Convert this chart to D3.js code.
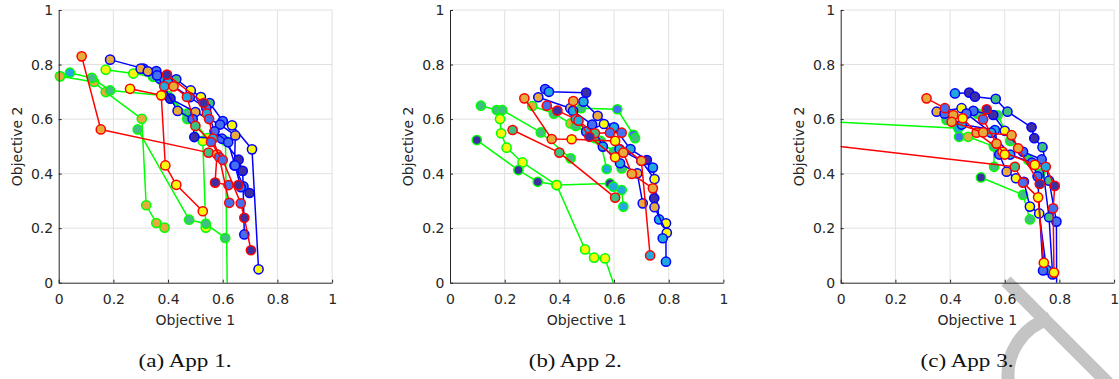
<!DOCTYPE html>
<html><head><meta charset="utf-8">
<script src="https://cdn.jsdelivr.net/npm/d3@7"></script>
<style>body{margin:0;background:#fff}svg{display:block}</style>
</head><body>
<svg id="c" width="1119" height="379"></svg>
<script>
const xTicks=[0,0.2,0.4,0.6,0.8,1];
const yTicks=[0,0.2,0.4,0.6,0.8,1];
const captions=["(a) App 1.","(b) App 2.","(c) App 3."];
const xLabel="Objective 1", yLabel="Objective 2";
// marker fill codes: Y yellow, O orange, T teal, C cyan, B blue, D dark blue
// ---- App 1 ----
const app1Green1=[[0.005,0.757,"O"],[0.129,0.736,"O"],[0.172,0.699,"O"],[0.304,0.601,"O"],[0.320,0.284,"O"],[0.357,0.219,"O"],[0.387,0.202,"O"]];
const app1Green2=[[0.005,0.757,"O"],[0.041,0.770,"C"],[0.121,0.751,"T"],[0.188,0.705,"T"],[0.40,0.685,"T"],[0.47,0.62,"T"],[0.545,0.53,"Y"],[0.61,0.52,"T"],[0.617,-0.06,"T"]];
const app1Green3=[[0.172,0.781,"Y"],[0.273,0.767,"Y"],[0.345,0.755,"T"],[0.41,0.675,"T"],[0.47,0.60,"T"],[0.527,0.52,"Y"],[0.538,0.202,"Y"]];
const app1Green4=[[0.289,0.562,"T"],[0.477,0.231,"T"],[0.538,0.216,"T"],[0.609,0.164,"T"]];
const app1Blue1=[[0.188,0.818,"O"],[0.31,0.785,"B"],[0.357,0.776,"B"],[0.43,0.746,"T"],[0.483,0.705,"Y"],[0.52,0.681,"Y"],[0.552,0.659,"T"],[0.60,0.593,"B"],[0.634,0.577,"Y"],[0.707,0.489,"Y"],[0.731,0.049,"Y"]];
const app1Blue2=[[0.30,0.785,"O"],[0.326,0.775,"O"],[0.37,0.748,"C"],[0.408,0.675,"D"],[0.50,0.626,"O"],[0.59,0.58,"B"],[0.646,0.54,"O"],[0.643,0.43,"C"],[0.676,0.353,"B"],[0.698,0.329,"D"]];
const app1Blue3=[[0.36,0.76,"B"],[0.435,0.63,"O"],[0.49,0.60,"B"],[0.496,0.534,"D"],[0.597,0.528,"B"],[0.658,0.451,"D"],[0.673,0.41,"D"],[0.679,0.177,"B"]];
const app1Blue4=[[0.40,0.735,"C"],[0.48,0.68,"B"],[0.54,0.64,"B"],[0.57,0.555,"B"],[0.62,0.515,"B"],[0.645,0.43,"B"],[0.666,0.35,"B"]];
const app1Red1=[[0.084,0.830,"O"],[0.154,0.562,"O"],[0.548,0.477,"T"],[0.579,0.471,"O"],[0.572,0.367,"D"],[0.621,0.358,"B"],[0.657,0.358,"D"]];
const app1Red2=[[0.261,0.711,"Y"],[0.375,0.687,"Y"],[0.390,0.430,"Y"],[0.430,0.359,"Y"],[0.527,0.262,"Y"]];
const app1Red3=[[0.396,0.763,"D"],[0.53,0.659,"D"],[0.542,0.62,"C"],[0.55,0.60,"B"],[0.564,0.528,"C"],[0.587,0.461,"B"],[0.624,0.293,"B"]];
const app1Red4=[[0.386,0.72,"C"],[0.42,0.72,"O"],[0.469,0.681,"C"],[0.50,0.575,"T"],[0.557,0.516,"B"],[0.60,0.45,"B"],[0.666,0.291,"B"],[0.679,0.238,"D"],[0.703,0.119,"D"]];
// ---- App 2 ----
const app2Green1=[[0.113,0.649,"T"],[0.171,0.633,"T"],[0.191,0.633,"T"],[0.332,0.551,"T"],[0.441,0.456,"T"]];
const app2Green2=[[0.183,0.600,"Y"],[0.187,0.548,"Y"],[0.207,0.495,"Y"],[0.265,0.441,"Y"],[0.390,0.358,"Y"],[0.494,0.122,"Y"],[0.527,0.092,"Y"],[0.567,0.089,"Y"],[0.614,-0.05,"Y"]];
const app2Green3=[[0.098,0.523,"D"],[0.25,0.413,"D"],[0.321,0.370,"D"],[0.39,0.358,"Y"],[0.585,0.364,"D"],[0.598,0.352,"C"],[0.628,0.34,"C"],[0.634,0.279,"C"]];
const app2Green4=[[0.301,0.648,"O"],[0.38,0.62,"T"],[0.441,0.584,"O"],[0.50,0.555,"T"],[0.55,0.52,"T"],[0.573,0.417,"C"]];
const app2Green5=[[0.48,0.64,"T"],[0.612,0.636,"B"],[0.671,0.542,"B"],[0.677,0.53,"T"]];
const app2Green6=[[0.46,0.575,"T"],[0.53,0.53,"T"],[0.60,0.48,"T"],[0.628,0.419,"T"]];
const app2Blue1=[[0.348,0.71,"B"],[0.362,0.70,"C"],[0.498,0.697,"D"],[0.488,0.664,"C"],[0.54,0.612,"O"],[0.60,0.57,"C"],[0.66,0.49,"C"],[0.72,0.45,"D"],[0.742,0.422,"C"],[0.765,0.232,"C"],[0.79,0.218,"Y"],[0.79,0.077,"C"]];
const app2Blue2=[[0.323,0.68,"O"],[0.44,0.64,"O"],[0.498,0.554,"C"],[0.563,0.582,"Y"],[0.62,0.49,"C"],[0.70,0.447,"C"],[0.748,0.38,"Y"],[0.747,0.31,"D"],[0.748,0.277,"O"],[0.793,0.183,"Y"],[0.778,0.163,"C"]];
const app2Blue3=[[0.45,0.63,"C"],[0.52,0.58,"B"],[0.559,0.499,"C"],[0.622,0.438,"C"],[0.685,0.401,"O"],[0.705,0.291,"O"]];
const app2Red1=[[0.272,0.676,"O"],[0.372,0.527,"O"],[0.445,0.526,"Y"],[0.604,0.52,"Y"],[0.70,0.447,"O"],[0.732,0.10,"C"]];
const app2Red2=[[0.229,0.56,"T"],[0.40,0.477,"T"],[0.604,0.312,"T"]];
const app2Red3=[[0.354,0.649,"B"],[0.393,0.631,"D"],[0.46,0.60,"C"],[0.53,0.548,"T"],[0.585,0.55,"B"],[0.628,0.55,"B"]];
const app2Red4=[[0.451,0.666,"O"],[0.47,0.594,"C"],[0.51,0.535,"D"],[0.604,0.46,"Y"],[0.634,0.477,"O"],[0.665,0.399,"O"],[0.742,0.346,"O"]];
// ---- App 3 ----
const app3Green1=[[-0.2,0.598,"T"],[0.43,0.566,"C"],[0.433,0.535,"B"],[0.466,0.535,"O"],[0.56,0.50,"T"],[0.561,0.425,"T"]];
const app3Green2=[[0.387,0.597,"T"],[0.50,0.62,"T"],[0.574,0.614,"T"],[0.62,0.52,"T"],[0.686,0.45,"T"],[0.73,0.40,"T"]];
const app3Green3=[[0.513,0.386,"D"],[0.667,0.322,"T"],[0.692,0.232,"T"]];
const app3Blue1=[[0.418,0.694,"C"],[0.47,0.697,"D"],[0.491,0.682,"D"],[0.567,0.674,"T"],[0.61,0.627,"T"],[0.698,0.57,"D"],[0.708,0.53,"D"],[0.738,0.497,"T"],[0.762,0.374,"T"],[0.789,0.224,"B"],[0.79,-0.05,"B"]];
const app3Blue2=[[0.351,0.627,"O"],[0.442,0.64,"Y"],[0.485,0.63,"B"],[0.558,0.615,"D"],[0.60,0.557,"Y"],[0.667,0.48,"B"],[0.735,0.452,"B"],[0.762,0.24,"T"],[0.775,0.03,"C"]];
const app3Blue3=[[0.38,0.62,"B"],[0.443,0.58,"C"],[0.564,0.56,"C"],[0.58,0.47,"B"],[0.607,0.407,"O"],[0.641,0.383,"Y"],[0.67,0.37,"B"],[0.692,0.279,"Y"],[0.726,0.254,"Y"],[0.753,0.047,"C"]];
const app3Blue4=[[0.46,0.62,"B"],[0.55,0.55,"C"],[0.62,0.47,"C"],[0.70,0.44,"B"],[0.72,0.39,"B"],[0.74,0.045,"B"]];
const app3Red1=[[-0.2,0.523,"Y"],[0.637,0.425,"T"],[0.667,0.367,"B"],[0.722,0.313,"Y"],[0.743,0.073,"Y"]];
const app3Red2=[[0.314,0.676,"O"],[0.381,0.640,"B"],[0.412,0.615,"O"],[0.446,0.603,"Y"],[0.497,0.55,"O"],[0.592,0.48,"Y"],[0.71,0.432,"Y"],[0.75,0.425,"C"],[0.783,0.355,"D"],[0.777,0.273,"B"],[0.78,0.037,"Y"]];
const app3Red3=[[0.406,0.59,"O"],[0.521,0.551,"O"],[0.625,0.541,"O"],[0.649,0.493,"O"],[0.728,0.362,"D"]];
const app3Red4=[[0.534,0.636,"D"],[0.521,0.599,"B"],[0.57,0.51,"O"],[0.60,0.47,"Y"]];

const fills={Y:"#f8f80e",O:"#e6ab3b",T:"#3fbf80",C:"#20a9dc",B:"#4470ef",D:"#3d2ea3"};
const lineColors={green:"#00ff00",blue:"#0000ff",red:"#ff0000"};

const panelSeries=[
  [["green",app1Green1],["green",app1Green2],["green",app1Green3],["green",app1Green4],["blue",app1Blue1],["blue",app1Blue2],["blue",app1Blue3],["blue",app1Blue4],["red",app1Red1],["red",app1Red2],["red",app1Red3],["red",app1Red4]],
  [["green",app2Green1],["green",app2Green2],["green",app2Green3],["green",app2Green4],["green",app2Green5],["green",app2Green6],["blue",app2Blue1],["blue",app2Blue2],["blue",app2Blue3],["red",app2Red1],["red",app2Red2],["red",app2Red3],["red",app2Red4]],
  [["green",app3Green1],["green",app3Green2],["green",app3Green3],["blue",app3Blue1],["blue",app3Blue2],["blue",app3Blue3],["blue",app3Blue4],["red",app3Red1],["red",app3Red2],["red",app3Red3],["red",app3Red4]]
];

// layout
const panelLeft=[58.7,450,840.7], captionX=[185,575.3,967];
const W=273.4, TOP=10, BOT=282.7;
const svg=d3.select("#c");
const axisColor="#262626";
const fmt=d=>d===0?"0":d===1?"1":String(d);

const layerPlot=svg.append("g"), layerWM=svg.append("g"), layerText=svg.append("g");

// watermark strokes
const wmColor="#c4c4c4";
layerWM.append("line").attr("x1",1006).attr("y1",281).attr("x2",1108).attr("y2",383)
  .attr("stroke",wmColor).attr("stroke-width",13);
const deg=Math.PI/180, cx=1067, cy=375, r=59;
const p0=[cx+r*Math.cos(172*deg), cy+r*Math.sin(172*deg)];
const p1=[cx+r*Math.cos(253*deg), cy+r*Math.sin(253*deg)];
layerWM.append("path")
  .attr("d",`M${p0[0]},${p0[1]} A${r},${r} 0 0 1 ${p1[0]},${p1[1]}`)
  .attr("fill","none").attr("stroke",wmColor).attr("stroke-width",13);

panelSeries.forEach((series,i)=>{
  const L=panelLeft[i];
  const x=d3.scaleLinear().domain([0,1]).range([L,L+W]);
  const y=d3.scaleLinear().domain([0,1]).range([BOT,TOP]);
  const g=layerPlot.append("g");
  g.append("g").selectAll("line").data(xTicks.filter(t=>t>0)).join("line")
    .attr("x1",d=>x(d)).attr("x2",d=>x(d)).attr("y1",y(0)).attr("y2",y(1))
    .attr("stroke","#e1e1e1").attr("stroke-width",1);
  g.append("g").selectAll("line").data(yTicks.filter(t=>t>0)).join("line")
    .attr("y1",d=>y(d)).attr("y2",d=>y(d)).attr("x1",x(0)).attr("x2",x(1))
    .attr("stroke","#e1e1e1").attr("stroke-width",1);
  const cid="clip"+i;
  svg.append("clipPath").attr("id",cid).append("rect")
    .attr("x",x(0)).attr("y",y(1)).attr("width",x(1)-x(0)).attr("height",y(0)-y(1));
  const line=d3.line().x(d=>x(d[0])).y(d=>y(d[1]));
  series.forEach(([col,pts])=>{
    const s=g.append("g");
    s.append("path").attr("d",line(pts)).attr("fill","none")
      .attr("stroke",lineColors[col]).attr("stroke-width",1.5)
      .attr("stroke-linejoin","round").attr("clip-path",`url(#${cid})`);
    s.selectAll("circle").data(pts.filter(p=>p[0]>=0&&p[0]<=1&&p[1]>=0&&p[1]<=1)).join("circle")
      .attr("cx",d=>x(d[0])).attr("cy",d=>y(d[1])).attr("r",4.6)
      .attr("fill",d=>fills[d[2]]).attr("stroke",lineColors[col]).attr("stroke-width",1.5);
  });
  const t=layerText.append("g");
  const ax=t.append("g").attr("transform",`translate(0,${BOT})`)
    .call(d3.axisBottom(x).tickValues(xTicks).tickFormat(fmt).tickSizeInner(-3).tickSizeOuter(0).tickPadding(11));
  const ay=t.append("g").attr("transform",`translate(${L},0)`)
    .call(d3.axisLeft(y).tickValues(yTicks).tickFormat(fmt).tickSizeInner(-3).tickSizeOuter(0).tickPadding(5.5));
  [ax,ay].forEach(a=>{
    a.selectAll("path,line").attr("stroke",axisColor).attr("stroke-width",1);
    a.selectAll("text").attr("fill",axisColor).style("font-family","DejaVu Sans").style("font-size","14px");
  });
  t.append("text").attr("x",L+W/2).attr("y",325).attr("text-anchor","middle")
    .attr("fill",axisColor).style("font-family","DejaVu Sans").style("font-size","14px").text(xLabel);
  t.append("text").attr("transform",`translate(${L-37},${(TOP+BOT)/2}) rotate(-90)`).attr("text-anchor","middle")
    .attr("fill",axisColor).style("font-family","DejaVu Sans").style("font-size","14px").text(yLabel);
  t.append("text").attr("x",captionX[i]).attr("y",367).attr("text-anchor","middle")
    .attr("fill","#111").style("font-family","Liberation Serif").style("font-size","19px")
    .attr("textLength",93).attr("lengthAdjust","spacingAndGlyphs").text(captions[i]);
});
</script>
</body></html>
